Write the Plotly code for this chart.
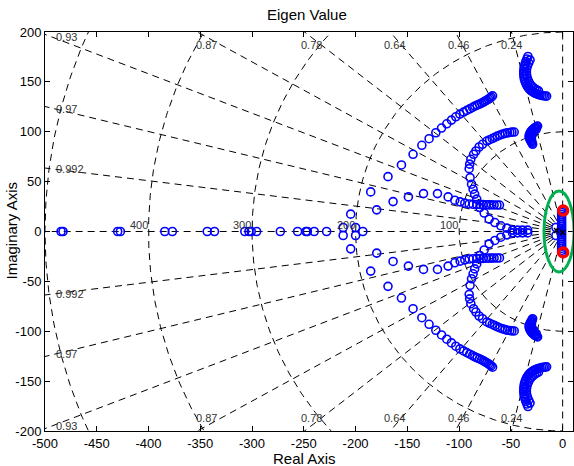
import numpy as np
import plotly.graph_objects as go

# ---------------- data (upper half-plane; eigenvalues come in conjugate pairs) -------------
real_axis_re = [-484.5, -482.6, -429.8, -427.2, -384.3, -377.0, -343.3, -336.3,
                -307.0, -303.0, -300.8, -295.6, -272.7, -256.0, -248.0, -246.6,
                -240.0, -228.0, -193.0]

branch_a_re = [-212.0, -204.7, -185.4, -168.7, -155.7, -144.5, -136.0, -129.0, -122.5,
               -117.0, -111.9, -107.4, -103.2, -99.3, -95.7, -92.6, -89.7, -87.0, -84.8,
               -82.6, -80.3, -78.3, -76.4, -74.9, -73.2, -71.6, -70.3, -69.1, -67.7]
branch_a_im = [4.0, 17.4, 39.7, 55.0, 66.7, 77.4, 86.4, 93.0, 99.0,
               103.7, 108.0, 111.7, 115.0, 117.7, 119.7, 121.4, 123.0, 124.4, 125.7,
               126.7, 127.7, 128.7, 129.7, 130.7, 131.7, 132.7, 133.7, 134.7, 136.0]

branch_b_re = [-200.0, -179.6, -163.8, -149.0, -134.4, -120.9, -110.6, -104.2, -99.0,
               -94.5, -90.3, -86.5, -82.9, -79.7, -76.8, -73.9, -71.3, -68.7, -66.2,
               -63.5, -61.0]
branch_b_im = [4.0, 21.7, 30.0, 34.7, 38.0, 38.0, 34.7, 31.4, 29.7,
               28.4, 27.6, 27.3, 27.1, 27.0, 26.9, 26.8, 26.7, 26.7, 26.6,
               26.6, 26.5]

branch_c_re = [-46.8, -49.0, -51.0, -53.2, -55.5, -58.0, -60.5, -63.0, -65.5, -68.0,
               -70.5, -73.2, -77.4, -80.7, -83.8, -86.0, -88.7, -89.8, -90.3, -89.4,
               -88.0, -86.5, -85.0, -83.0, -80.0, -75.8, -71.0, -65.5, -59.7, -53.9,
               -48.4, -43.5, -38.7, -33.8]
branch_c_im = [99.7, 99.6, 99.3, 99.0, 98.4, 97.6, 96.7, 95.6, 94.4, 93.2,
               92.0, 90.7, 87.4, 84.7, 80.7, 77.4, 72.4, 67.5, 63.0, 54.0,
               47.4, 42.4, 37.5, 32.5, 24.0, 18.5, 12.4, 9.0, 5.7, 3.4,
               1.4, 1.4, 1.4, 1.4]

branch_d_re = [-33.5, -34.5, -35.5, -36.3, -37.0, -37.4, -37.6, -37.6, -37.4, -37.0,
               -36.4, -35.6, -34.7, -33.6, -32.4, -31.0, -29.6, -28.1, -26.6, -25.0,
               -23.4, -21.8, -20.2, -18.6, -17.0, -15.5,
               -31.5, -32.8, -34.0, -34.8, -35.0, -34.8, -34.2, -33.2, -32.0, -30.5,
               -28.8, -27.0, -25.2, -23.3]
branch_d_im = [175.5, 173.0, 170.5, 168.0, 165.5, 163.0, 160.5, 158.0, 155.5, 153.0,
               150.7, 148.5, 146.5, 144.7, 143.0, 141.6, 140.4, 139.4, 138.6, 137.9,
               137.3, 136.8, 136.4, 136.1, 135.9, 135.7,
               172.0, 169.0, 166.0, 163.0, 160.0, 157.0, 154.0, 151.3, 148.8, 146.6,
               144.8, 143.3, 142.0, 141.0]

branch_e_re = [-24.2, -25.0, -26.0, -27.0, -28.0, -29.0, -30.0, -30.8, -31.5, -32.0,
               -32.3, -32.3, -32.0, -31.5, -30.9, -30.3, -29.6, -29.0,
               -25.5, -27.5, -29.0, -30.0, -30.2, -29.8]
branch_e_im = [105.7, 105.2, 104.5, 103.8, 103.0, 102.0, 101.0, 99.8, 98.5, 97.2,
               96.0, 94.7, 93.5, 92.2, 91.0, 89.9, 88.6, 87.4,
               102.5, 100.5, 98.0, 95.5, 93.0, 90.5]

branch_g_re = [-1.0] * 11 + [-6.5]
branch_g_im = [1.0, 3.0, 5.0, 7.0, 9.0, 11.0, 13.0, 15.0, 17.0, 19.0, 21.0, 4.0]

red_re = [0.5]
red_im = [21.0]

black_re = [-6.0, 0.0]
black_im = [1.0, -1.0]

# grid parameters (sgrid)
zeta_values = [0.24, 0.46, 0.64, 0.78, 0.87, 0.93, 0.97, 0.992]
wn_values = [100, 200, 300, 400, 500]
top_label_zeta = ["0.87", "0.78", "0.64", "0.46", "0.24"]
top_label_x = [-344.0, -242.6, -162.9, -100.8, -49.2]
top_label_y = 187.0
left_label_zeta = ["0.93", "0.97", "0.992"]
left_label_y = [195.0, 123.0, 63.0]
left_label_x = -491.0

# green highlight ellipse
ell_cx, ell_cy, ell_rx, ell_ry = -3.5, 0.0, 14.5, 40.5

x_ticks = [-500, -450, -400, -350, -300, -250, -200, -150, -100, -50, 0]
x_tick_labels = ["-500", "-450", "-400", "-350", "-300", "-250", "-200", "-150", "-100", "-50", "0"]
y_ticks = [-200, -150, -100, -50, 0, 50, 100, 150, 200]
y_tick_labels = ["-200", "-150", "-100", "-50", "0", "50", "100", "150", "200"]

# ---------------- figure ----------------
fig = go.Figure()
grid_line = dict(color="black", width=1, dash="7px,5px")

R = 800
for z in zeta_values:
    w = np.sqrt(1 - z * z)
    for s in (1, -1):
        fig.add_trace(go.Scatter(x=[0, -z * R], y=[0, s * w * R], mode="lines",
                                 line=grid_line, hoverinfo="skip", showlegend=False))
# zeta = 1 (negative real axis) and zeta = 0 (imaginary axis)
fig.add_trace(go.Scatter(x=[0, -R], y=[0, 0], mode="lines", line=grid_line,
                         hoverinfo="skip", showlegend=False))
for s in (1, -1):
    fig.add_trace(go.Scatter(x=[0, 0], y=[0, s * R], mode="lines", line=grid_line,
                             hoverinfo="skip", showlegend=False))
th = np.linspace(np.pi / 2, 3 * np.pi / 2, 400)
for wn in wn_values:
    fig.add_trace(go.Scatter(x=wn * np.cos(th), y=wn * np.sin(th), mode="lines",
                             line=grid_line, hoverinfo="skip", showlegend=False))

blue_marker = dict(symbol="circle-open", size=8, color="blue", line=dict(width=1.6, color="blue"))


def conj(re, im):
    return list(re) + list(re), list(im) + [-v for v in im]


fig.add_trace(go.Scatter(x=real_axis_re, y=[0.0] * len(real_axis_re), mode="markers",
                         marker=blue_marker, showlegend=False))
for re, im in [(branch_a_re, branch_a_im), (branch_b_re, branch_b_im),
               (branch_c_re, branch_c_im), (branch_d_re, branch_d_im),
               (branch_e_re, branch_e_im), (branch_g_re, branch_g_im)]:
    xx, yy = conj(re, im)
    fig.add_trace(go.Scatter(x=xx, y=yy, mode="markers", marker=blue_marker, showlegend=False))

xx, yy = conj(red_re, red_im)
fig.add_trace(go.Scatter(x=xx, y=yy, mode="markers", showlegend=False,
                         marker=dict(symbol="circle-open", size=9, color="red",
                                     line=dict(width=3.5, color="red"))))
fig.add_trace(go.Scatter(x=black_re, y=black_im, mode="markers", showlegend=False,
                         marker=dict(symbol="x-thin-open", size=5, color="black",
                                     line=dict(width=1.5, color="black"))))

fig.add_shape(type="circle", xref="x", yref="y",
              x0=ell_cx - ell_rx, x1=ell_cx + ell_rx, y0=ell_cy - ell_ry, y1=ell_cy + ell_ry,
              line=dict(color="#00b050", width=3))

lab_font = dict(family="Liberation Sans, Arial, sans-serif", size=11, color="#333333")
ann = []
for t, x in zip(top_label_zeta, top_label_x):
    for s in (1, -1):
        ann.append(dict(x=x, y=s * top_label_y, xref="x", yref="y", text=t, showarrow=False,
                        font=lab_font, xanchor="center", yanchor="middle"))
for t, y in zip(left_label_zeta, left_label_y):
    for s in (1, -1):
        ann.append(dict(x=left_label_x, y=s * y, xref="x", yref="y", text=t, showarrow=False,
                        font=lab_font, xanchor="left", yanchor="middle"))
for wn in wn_values[:4]:
    ann.append(dict(x=-wn, y=0, xref="x", yref="y", text=str(wn), showarrow=False,
                    font=lab_font, xanchor="right", yanchor="bottom", xshift=1, yshift=-1))

big_font = dict(family="Liberation Sans, Arial, sans-serif", size=15, color="black")
ann.append(dict(x=0.497, y=1.045, xref="paper", yref="paper", text="Eigen Value",
                showarrow=False, font=big_font, xanchor="center", yanchor="middle"))
ann.append(dict(x=0.491, y=-0.068, xref="paper", yref="paper", text="Real Axis",
                showarrow=False, font=big_font, xanchor="center", yanchor="middle"))
ann.append(dict(x=-0.064, y=0.503, xref="paper", yref="paper", text="Imaginary Axis",
                showarrow=False, font=big_font, xanchor="center", yanchor="middle",
                textangle=-90))

tick_font = dict(family="Liberation Sans, Arial, sans-serif", size=13, color="black")
fig.update_layout(
    width=574, height=466,
    margin=dict(l=45, r=1, t=32, b=35),
    paper_bgcolor="white", plot_bgcolor="white",
    annotations=ann,
    showlegend=False,
)
fig.update_xaxes(range=[-500, 10], tickvals=x_ticks, ticktext=x_tick_labels,
                 ticks="inside", ticklen=5, tickcolor="black", mirror="ticks",
                 showline=True, linecolor="black", linewidth=1, showgrid=False,
                 zeroline=False, tickfont=tick_font, automargin=False)
fig.update_yaxes(range=[-200, 200], tickvals=y_ticks, ticktext=y_tick_labels,
                 ticks="inside", ticklen=5, tickcolor="black", mirror="ticks",
                 showline=True, linecolor="black", linewidth=1, showgrid=False,
                 zeroline=False, tickfont=tick_font, automargin=False)

fig.write_html("out.html")
